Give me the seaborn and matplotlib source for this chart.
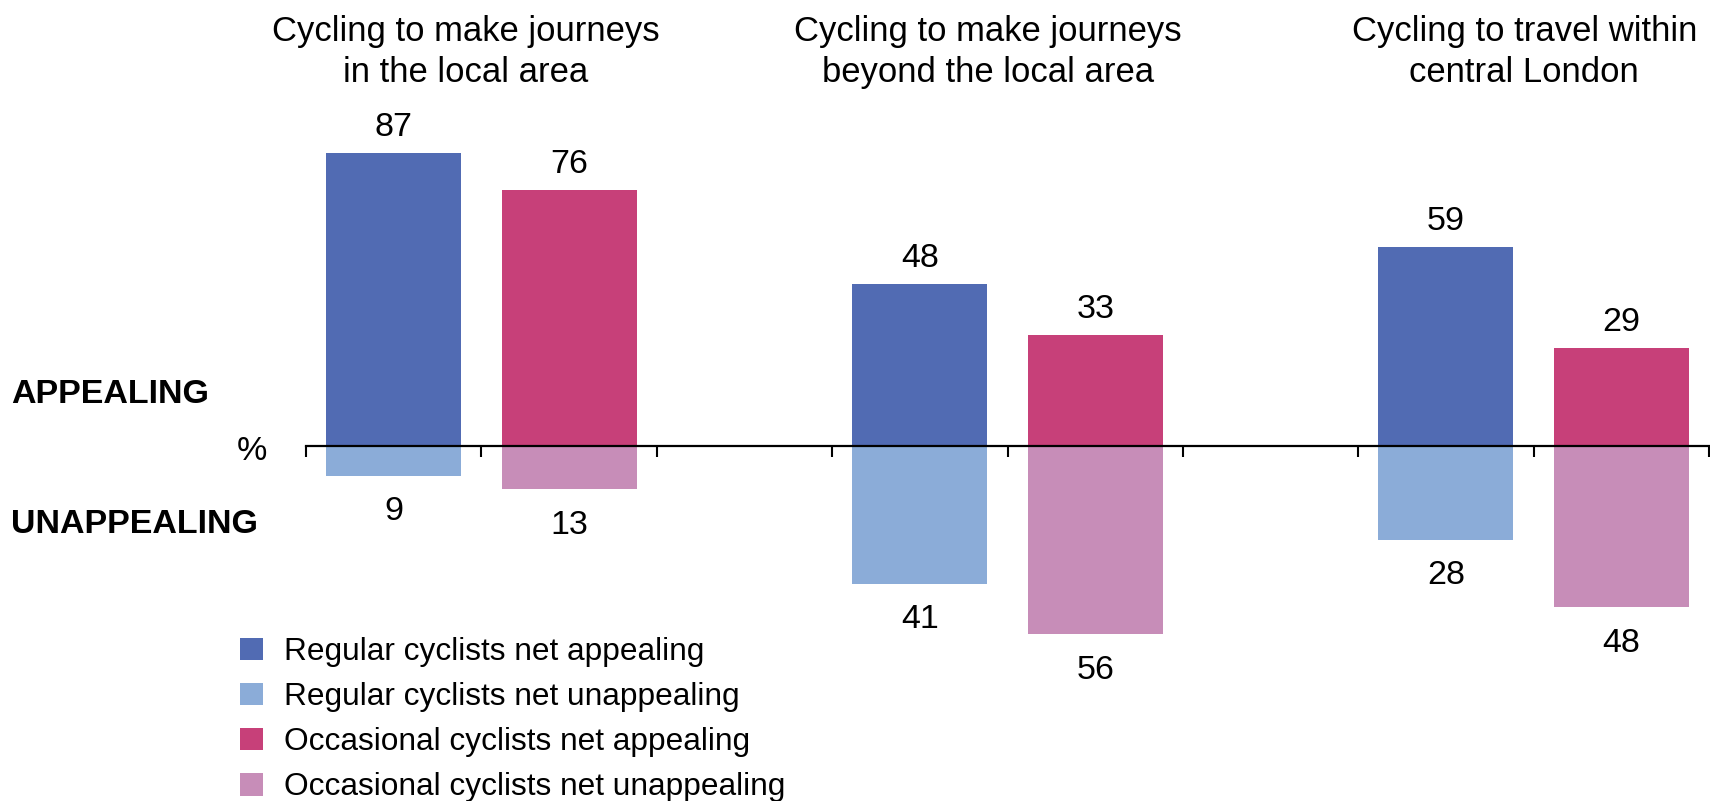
import matplotlib
matplotlib.use("Agg")
import matplotlib.pyplot as plt
import seaborn as sns
import pandas as pd
import numpy as np
from matplotlib.patches import Patch
from matplotlib.transforms import blended_transform_factory

# ---------------- data ----------------
group_titles = [
    "Cycling to make journeys\nin the local area",
    "Cycling to make journeys\nbeyond the local area",
    "Cycling to travel within\ncentral London",
]
regular_appealing = [87, 48, 59]
regular_unappealing = [9, 41, 28]
occasional_appealing = [76, 33, 29]
occasional_unappealing = [13, 56, 48]

series_labels = [
    "Regular cyclists net appealing",
    "Regular cyclists net unappealing",
    "Occasional cyclists net appealing",
    "Occasional cyclists net unappealing",
]
series_colors = ["#516BB3", "#8BACD8", "#C74079", "#C78DB8"]

# slot order on the category axis (Excel-style empty gap categories)
slots = ["g0_reg", "g0_occ", "gap0", "g1_reg", "g1_occ", "gap1", "g2_reg", "g2_occ"]
title_x = [0.412, 3.388, 6.447]

# ---------------- build tables ----------------
pos_rows, neg_rows = [], []
for i in range(len(group_titles)):
    pos_rows.append({"slot": f"g{i}_reg", "value": regular_appealing[i], "series": series_labels[0]})
    pos_rows.append({"slot": f"g{i}_occ", "value": occasional_appealing[i], "series": series_labels[2]})
    neg_rows.append({"slot": f"g{i}_reg", "value": -regular_unappealing[i], "series": series_labels[1]})
    neg_rows.append({"slot": f"g{i}_occ", "value": -occasional_unappealing[i], "series": series_labels[3]})
df_pos = pd.DataFrame(pos_rows)
df_neg = pd.DataFrame(neg_rows)

sns.set_theme(style="white")
plt.rcParams["font.family"] = ["Liberation Sans", "DejaVu Sans"]
plt.rcParams["text.color"] = "black"

W, H = 1710, 801
fig = plt.figure(figsize=(W / 100, H / 100), dpi=100)
# axes: x from px 306 to 1709; y: zero line at px 445.7, 3.368 px per unit
ylo, yhi = -60, 100
ppu = 3.368
y0 = 445.7
top_px = y0 - yhi * ppu
bot_px = y0 - ylo * ppu
ax = fig.add_axes([306 / W, 1 - bot_px / H, 1403 / W, (bot_px - top_px) / H])

palette = dict(zip(series_labels, series_colors))
sns.barplot(data=df_pos, x="slot", y="value", hue="series", order=slots,
            hue_order=series_labels, palette=palette, dodge=False, width=0.77,
            saturation=1, legend=False, ax=ax, linewidth=0)
sns.barplot(data=df_neg, x="slot", y="value", hue="series", order=slots,
            hue_order=series_labels, palette=palette, dodge=False, width=0.77,
            saturation=1, legend=False, ax=ax, linewidth=0)

ax.set_xlim(-0.5, len(slots) - 0.5)
ax.set_ylim(ylo, yhi)
for s in ["top", "right", "left"]:
    ax.spines[s].set_visible(False)
ax.spines["bottom"].set_position(("data", 0))
ax.spines["bottom"].set_linewidth(1.6)
ax.spines["bottom"].set_color("black")
ax.spines["bottom"].set_zorder(5)
ax.set_xticks(np.arange(-0.5, len(slots), 1.0))
ax.set_xticklabels([])
ax.tick_params(axis="x", direction="out", length=8, width=1.5, color="black", bottom=True)
ax.set_yticks([])
ax.set_xlabel("")
ax.set_ylabel("")
ax.patch.set_alpha(0)

FS = 24.5
TFS = 24.9
# value labels
for df, sign in [(df_pos, 1), (df_neg, -1)]:
    for _, r in df.iterrows():
        xi = slots.index(r["slot"])
        v = r["value"]
        off = 12.2 if sign > 0 else -31.9
        ax.annotate(f"{abs(v):g}", (xi, v), xytext=(0, off), textcoords="offset points",
                    ha="center", va="baseline", fontsize=FS, color="black")

# group titles
trans = blended_transform_factory(ax.transData, fig.transFigure)
for tx, t in zip(title_x, group_titles):
    ax.text(tx, 1 - 15.0 / H, t, transform=trans, ha="center", va="top",
            fontsize=TFS, color="black", linespacing=1.32)

# side labels
fig.text(11 / W, 1 - 403 / H, "APPEALING", fontsize=24.5, fontweight="bold",
         ha="left", va="baseline", color="black")
fig.text(11 / W, 1 - 533 / H, "UNAPPEALING", fontsize=24.5, fontweight="bold",
         ha="left", va="baseline", color="black")
fig.text(252 / W, 1 - 460 / H, "%", fontsize=FS, ha="center", va="baseline", color="black")

# legend
handles = [Patch(facecolor=c, edgecolor="none", label=l) for c, l in zip(series_colors, series_labels)]
LFS = 22.8
fig.legend(handles=handles, loc="upper left", bbox_to_anchor=(240 / W, 1 - 637 / H),
           frameon=False, fontsize=LFS, handlelength=0.73, handleheight=0.73,
           handletextpad=0.66, labelspacing=0.476, borderpad=0, borderaxespad=0,
           labelcolor="black")

fig.savefig("out.png", dpi=100)
